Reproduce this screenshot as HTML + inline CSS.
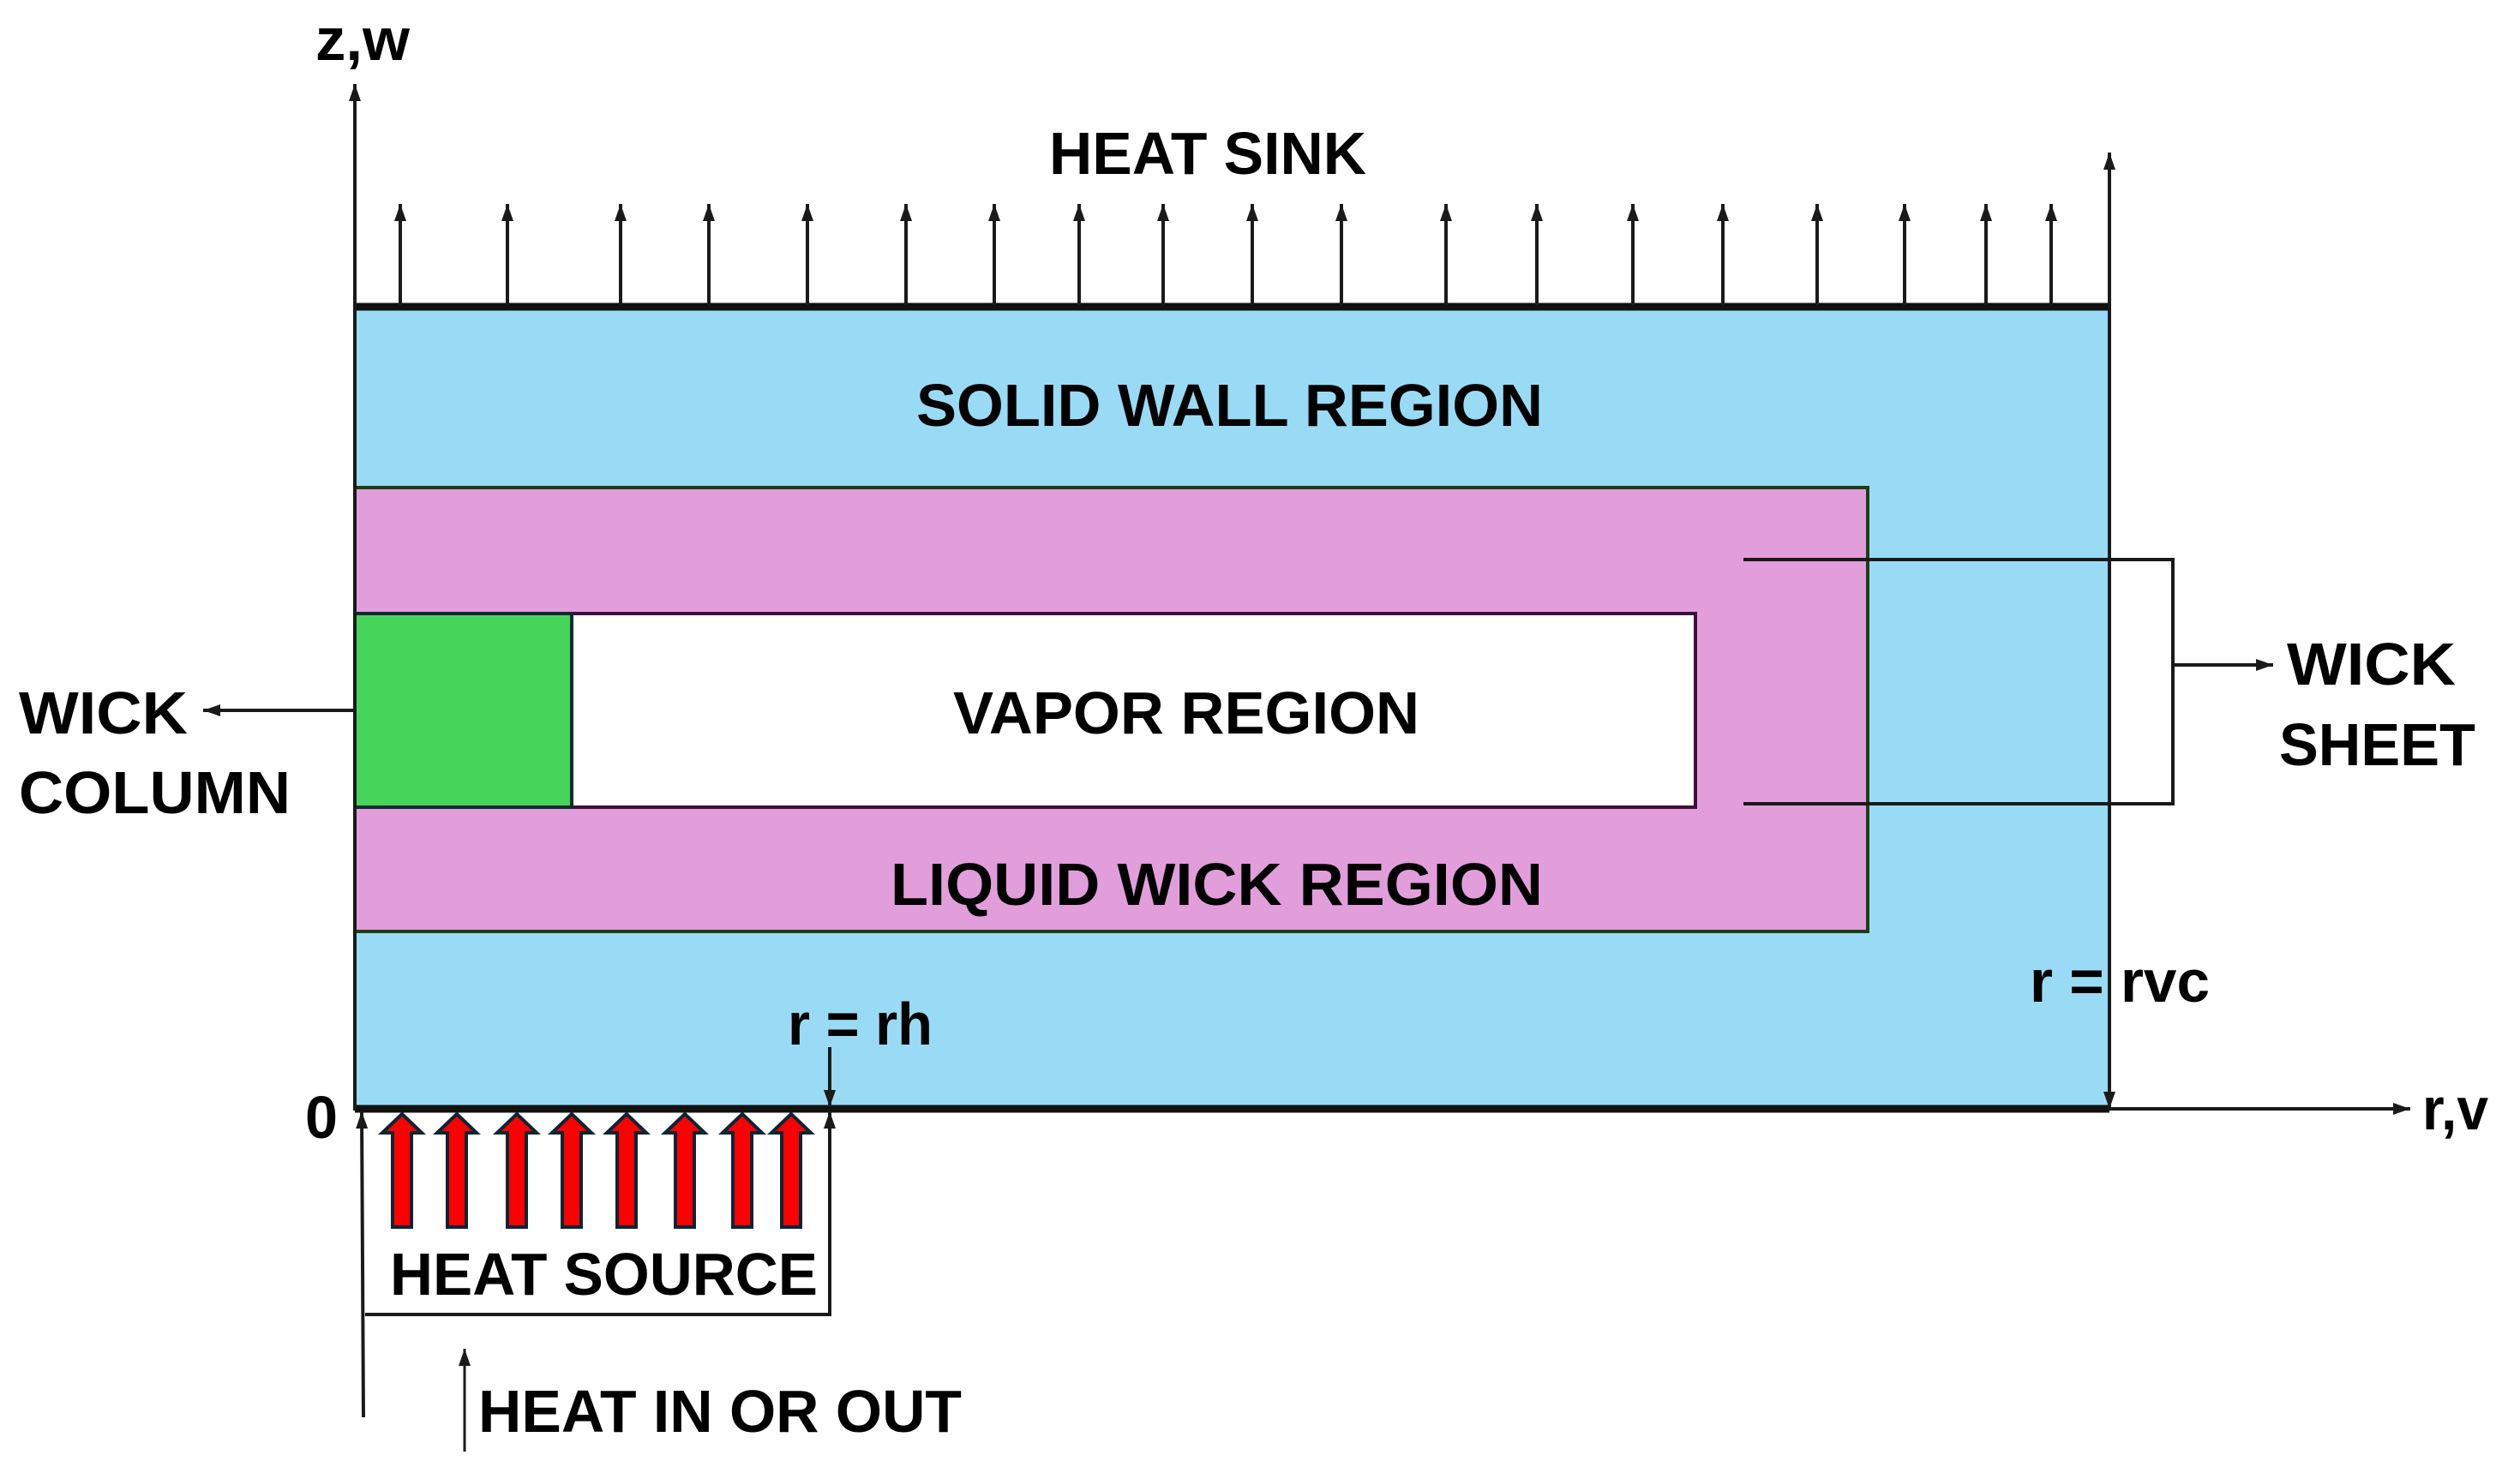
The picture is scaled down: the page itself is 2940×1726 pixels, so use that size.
<!DOCTYPE html>
<html><head><meta charset="utf-8"><style>
html,body{margin:0;padding:0;background:#fff;}
svg{display:block;}
text{font-family:"Liberation Sans Narrow","Liberation Sans",sans-serif;font-weight:bold;fill:#000;}
</style></head><body>
<svg width="2940" height="1726" viewBox="0 0 2940 1726" xmlns="http://www.w3.org/2000/svg">
<defs>
<marker id="ah2" viewBox="0 0 20 14" refX="20" refY="7" markerWidth="20" markerHeight="14" markerUnits="userSpaceOnUse" orient="auto"><path d="M0,0 L20,7 L0,14 z" fill="#1a1a1a"/></marker>
</defs>
<rect x="414" y="358" width="2047" height="936" fill="#99dbf5" stroke="#1a1a1a" stroke-width="4"/>
<line x1="414" y1="358" x2="2461" y2="358" stroke="#111" stroke-width="9"/>
<rect x="414" y="569" width="1765" height="518" fill="#e29edb" stroke="#1e3d14" stroke-width="4"/>
<rect x="667" y="716" width="1311" height="226" fill="#fff" stroke="#3d0f3d" stroke-width="4"/>
<rect x="414" y="716" width="253" height="226" fill="#47d45a" stroke="#0f2a30" stroke-width="4"/>
<line x1="414" y1="1294" x2="2461" y2="1294" stroke="#111" stroke-width="9"/>
<line x1="414" y1="1294" x2="414" y2="98" stroke="#1a1a1a" stroke-width="4" marker-end="url(#ah2)"/>
<line x1="2461" y1="1294" x2="2812" y2="1294" stroke="#1a1a1a" stroke-width="4" marker-end="url(#ah2)"/>
<line x1="2461" y1="1294" x2="2461" y2="178" stroke="#1a1a1a" stroke-width="4" marker-end="url(#ah2)"/>
<line x1="2461" y1="1230" x2="2461" y2="1294" stroke="#1a1a1a" stroke-width="4" marker-end="url(#ah2)"/>
<g stroke="#1a1a1a" stroke-width="4" marker-end="url(#ah2)">
<line x1="467" y1="356" x2="467" y2="238"/><line x1="592" y1="356" x2="592" y2="238"/>
<line x1="724" y1="356" x2="724" y2="238"/><line x1="827" y1="356" x2="827" y2="238"/>
<line x1="942" y1="356" x2="942" y2="238"/><line x1="1057" y1="356" x2="1057" y2="238"/>
<line x1="1160" y1="356" x2="1160" y2="238"/><line x1="1259" y1="356" x2="1259" y2="238"/>
<line x1="1357" y1="356" x2="1357" y2="238"/><line x1="1461" y1="356" x2="1461" y2="238"/>
<line x1="1565" y1="356" x2="1565" y2="238"/><line x1="1687" y1="356" x2="1687" y2="238"/>
<line x1="1793" y1="356" x2="1793" y2="238"/><line x1="1905" y1="356" x2="1905" y2="238"/>
<line x1="2010" y1="356" x2="2010" y2="238"/><line x1="2120" y1="356" x2="2120" y2="238"/>
<line x1="2222" y1="356" x2="2222" y2="238"/><line x1="2317" y1="356" x2="2317" y2="238"/>
<line x1="2393" y1="356" x2="2393" y2="238"/>
</g>
<polyline points="2034,653 2535,653 2535,938 2034,938" fill="none" stroke="#1a1a1a" stroke-width="4"/>
<line x1="2535" y1="776" x2="2652" y2="776" stroke="#1a1a1a" stroke-width="4" marker-end="url(#ah2)"/>
<line x1="414" y1="829" x2="237" y2="829" stroke="#1a1a1a" stroke-width="4" marker-end="url(#ah2)"/>
<line x1="968" y1="1222" x2="968" y2="1292" stroke="#1a1a1a" stroke-width="4" marker-end="url(#ah2)"/>
<line x1="424" y1="1654" x2="422" y2="1297" stroke="#1a1a1a" stroke-width="4" marker-end="url(#ah2)"/>
<polyline points="426,1534 968,1534 968,1340" fill="none" stroke="#1a1a1a" stroke-width="4"/>
<line x1="968" y1="1340" x2="968" y2="1297" stroke="#1a1a1a" stroke-width="4" marker-end="url(#ah2)"/>
<line x1="542" y1="1694" x2="542" y2="1574" stroke="#1a1a1a" stroke-width="3" marker-end="url(#ah2)"/>
<g fill="#ff0000" stroke="#0b2535" stroke-width="4" stroke-linejoin="miter">
<path d="M458,1432 L458,1322 L446,1322 L469,1300 L492,1322 L480,1322 L480,1432 Z"/>
<path d="M522,1432 L522,1322 L510,1322 L533,1300 L556,1322 L544,1322 L544,1432 Z"/>
<path d="M592,1432 L592,1322 L580,1322 L603,1300 L626,1322 L614,1322 L614,1432 Z"/>
<path d="M656,1432 L656,1322 L644,1322 L667,1300 L690,1322 L678,1322 L678,1432 Z"/>
<path d="M720,1432 L720,1322 L708,1322 L731,1300 L754,1322 L742,1322 L742,1432 Z"/>
<path d="M788,1432 L788,1322 L776,1322 L799,1300 L822,1322 L810,1322 L810,1432 Z"/>
<path d="M855,1432 L855,1322 L843,1322 L866,1300 L889,1322 L877,1322 L877,1432 Z"/>
<path d="M912,1432 L912,1322 L900,1322 L923,1300 L946,1322 L934,1322 L934,1432 Z"/>
</g>
<g font-size="70">
<text x="368" y="70" textLength="110" lengthAdjust="spacingAndGlyphs">z,w</text>
<text x="1224" y="203" textLength="370" lengthAdjust="spacingAndGlyphs">HEAT SINK</text>
<text x="1069" y="497" textLength="731" lengthAdjust="spacingAndGlyphs">SOLID WALL REGION</text>
<text x="1112" y="856" textLength="544" lengthAdjust="spacingAndGlyphs">VAPOR REGION</text>
<text x="1039" y="1056" textLength="761" lengthAdjust="spacingAndGlyphs">LIQUID WICK REGION</text>
<text x="22" y="856" textLength="197" lengthAdjust="spacingAndGlyphs">WICK</text>
<text x="22" y="949" textLength="317" lengthAdjust="spacingAndGlyphs">COLUMN</text>
<text x="2668" y="799" textLength="197" lengthAdjust="spacingAndGlyphs">WICK</text>
<text x="2659" y="893" textLength="229" lengthAdjust="spacingAndGlyphs">SHEET</text>
<text x="2368" y="1169" textLength="210" lengthAdjust="spacingAndGlyphs">r = rvc</text>
<text x="919" y="1219" textLength="169" lengthAdjust="spacingAndGlyphs">r = rh</text>
<text x="356" y="1328" textLength="38" lengthAdjust="spacingAndGlyphs">0</text>
<text x="2826" y="1318" textLength="77" lengthAdjust="spacingAndGlyphs">r,v</text>
<text x="455" y="1511" textLength="499" lengthAdjust="spacingAndGlyphs">HEAT SOURCE</text>
<text x="558" y="1671" textLength="564" lengthAdjust="spacingAndGlyphs">HEAT IN OR OUT</text>
</g>
</svg>
</body></html>
